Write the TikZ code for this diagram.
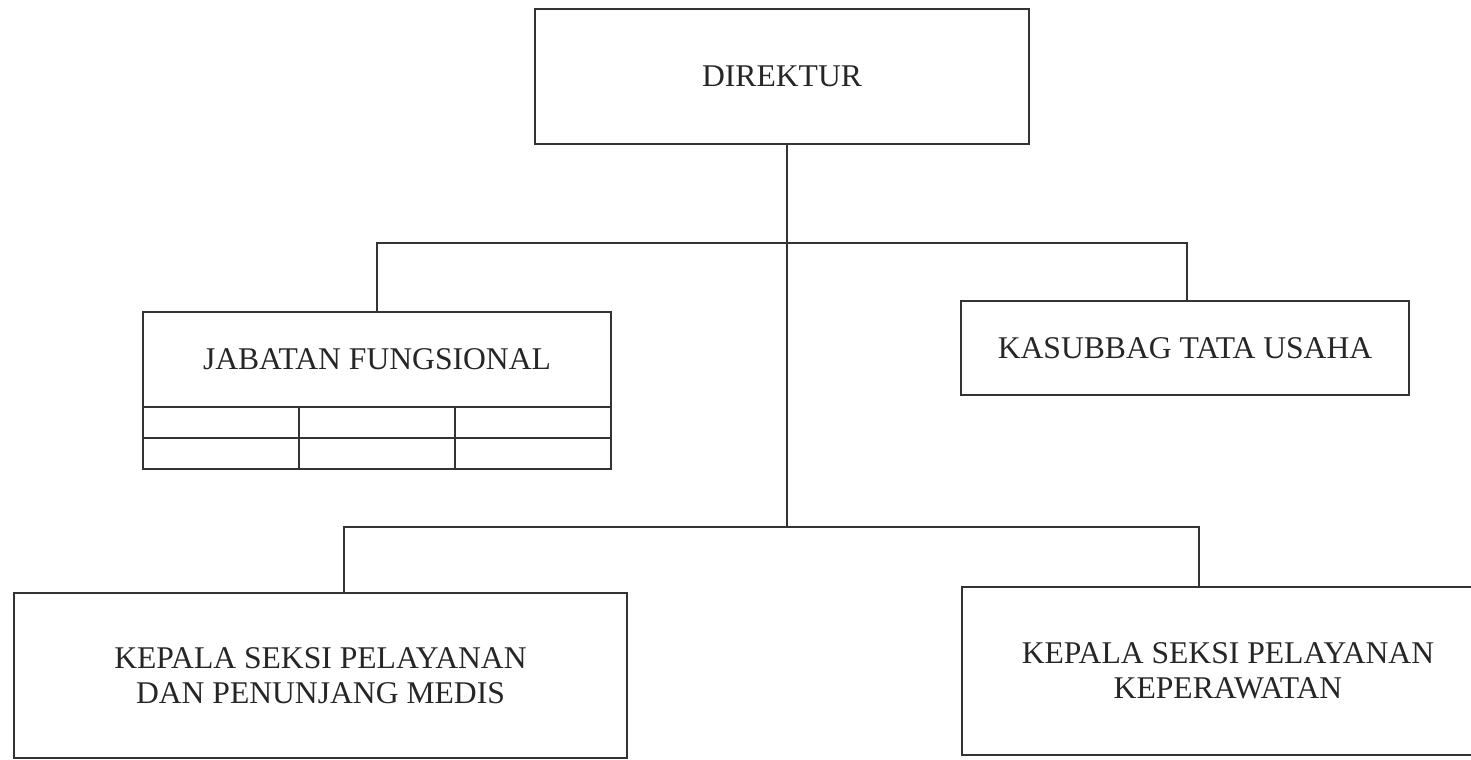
\documentclass[tikz,border=0pt]{standalone}
\usepackage{fontspec}
\setmainfont{Liberation Serif}

\begin{document}
\begin{tikzpicture}[x=0.02cm, y=-0.02cm, line width=0.9pt, draw=black!80,
	box/.style = {draw=black!80, line width=0.9pt, text=black!85, align=center, inner sep=0pt, font=\fontsize{18}{20}\selectfont},
	cell/.style = {draw=black!80, line width=0.9pt, minimum width=156*0.02cm, minimum height=31*0.02cm, inner sep=0pt}]

		\useasboundingbox (0,0) rectangle (1471,760);

		\node[box, minimum width=494*0.02cm, minimum height=135*0.02cm] (dir) at (782,76.5) {DIREKTUR};
		\node[box, minimum width=468*0.02cm, minimum height=95*0.02cm] (jab) at (377,359.5) {JABATAN FUNGSIONAL};
		\node[box, minimum width=448*0.02cm, minimum height=94*0.02cm] (kas) at (1185,348) {KASUBBAG TATA USAHA};
		\node[box, minimum width=613*0.02cm, minimum height=165*0.02cm] (med) at (320.5,675.5) {KEPALA SEKSI PELAYANAN\\DAN PENUNJANG MEDIS};
		\node[box, minimum width=532*0.02cm, minimum height=168*0.02cm] (kep) at (1228,671) {KEPALA SEKSI PELAYANAN\\KEPERAWATAN};

		% grid under jabatan fungsional
		\foreach \r in {1,2}
			\foreach \c in {1,2,3}
				\node[cell] (c\r\c) at ({143+156*(\c-0.5)},{407+31*(\r-0.5)}) {};

		\coordinate (t1) at (787,243);
		\coordinate (t2) at (787,527);
		\coordinate (jl) at (377,243);
		\coordinate (jr) at (1187,243);
		\coordinate (ml) at (344,527);
		\coordinate (mr) at (1199,527);

		\draw (dir.south -| t1) to (t2);
		\draw (jab.north -| jl) -- (jl) -- (jr) -- (kas.north -| jr);
		\draw (med.north -| ml) -- (ml) -- (mr) -- (kep.north -| mr);
	\end{tikzpicture}
\end{document}
